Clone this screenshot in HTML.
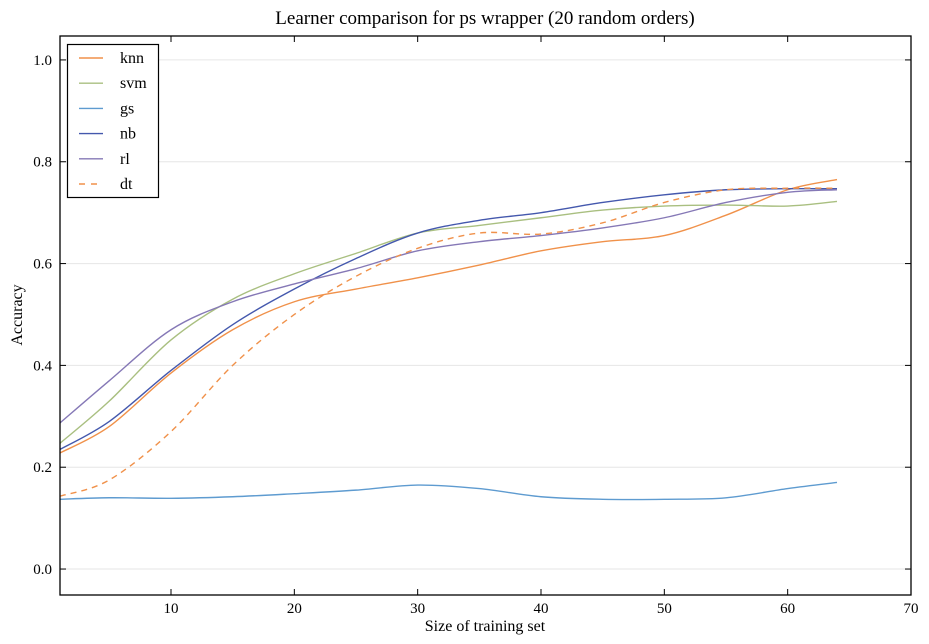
<!DOCTYPE html>
<html><head><meta charset="utf-8">
<style>
body{margin:0;background:#fff;}
svg{display:block;font-family:"Liberation Serif","DejaVu Serif",serif;}
</style></head>
<body>
<svg id="chart" width="929" height="644" viewBox="0 0 929 644"></svg>
<script>
const xs = [1,5,10,15,20,25,30,35,40,45,50,55,60,64];
const knn = [0.228,0.28,0.385,0.47,0.525,0.55,0.572,0.597,0.625,0.643,0.655,0.695,0.745,0.765];
const svm = [0.247,0.33,0.45,0.53,0.58,0.62,0.66,0.675,0.69,0.705,0.713,0.715,0.713,0.722];
const gs = [0.137,0.14,0.139,0.142,0.148,0.155,0.165,0.158,0.142,0.137,0.137,0.14,0.158,0.17];
const nb = [0.235,0.29,0.39,0.48,0.55,0.61,0.66,0.685,0.7,0.72,0.735,0.745,0.747,0.747];
const rl = [0.287,0.37,0.47,0.525,0.56,0.59,0.625,0.643,0.655,0.67,0.69,0.72,0.74,0.745];
const dt = [0.143,0.175,0.27,0.4,0.5,0.575,0.63,0.66,0.658,0.68,0.72,0.745,0.748,0.748];
const seriesNames = ["knn","svm","gs","nb","rl","dt"];
const xTicks = [10,20,30,40,50,60,70];
const yTicks = [0.0,0.2,0.4,0.6,0.8,1.0];

const L=60,R=911,T=36,B=595;
const xMin=1, xMax=70, yMin=-0.051, yMax=1.047;
const X=v=>L+(v-xMin)/(xMax-xMin)*(R-L);
const Y=v=>B-(v-yMin)/(yMax-yMin)*(B-T);
const svg=document.getElementById('chart');
const NS='http://www.w3.org/2000/svg';
function mk(tag,attrs,parent){const e=document.createElementNS(NS,tag);for(const k in attrs)e.setAttribute(k,attrs[k]);(parent||svg).appendChild(e);return e;}

// grid
yTicks.forEach(t=>{
  const g=mk('line',{x1:L,x2:R,y1:Y(t),y2:Y(t),stroke:'#e6e6e6','stroke-width':1});
  
  
});
// ticks
yTicks.forEach(t=>{
  const y=Y(t);
  mk('line',{x1:L,x2:L+6,y1:y,y2:y,stroke:'#000'});
  mk('line',{x1:R-6,x2:R,y1:y,y2:y,stroke:'#000'});
  const tx=mk('text',{x:L-8,y:y+5,'text-anchor':'end','font-size':15});
  tx.textContent=t.toFixed(1);
  
  
});
xTicks.forEach(t=>{
  const x=X(t);
  mk('line',{x1:x,x2:x,y1:B,y2:B-6,stroke:'#000'});
  mk('line',{x1:x,x2:x,y1:T,y2:T+6,stroke:'#000'});
  const tx=mk('text',{x:x,y:B+18,'text-anchor':'middle','font-size':15});
  tx.textContent=t;
  
  
});

const colors={knn:'#f0914a',svm:'#a9bf80',gs:'#5e9bd0',nb:'#4458ad',rl:'#8578b6',dt:'#f0914a'};
const data={knn,svm,gs,nb,rl,dt};
function path(vals){
  const p=xs.map((x,i)=>[X(x),Y(vals[i])]);
  let d='M'+p[0][0]+','+p[0][1];
  for(let i=0;i<p.length-1;i++){
    const p0=p[Math.max(i-1,0)],p1=p[i],p2=p[i+1],p3=p[Math.min(i+2,p.length-1)];
    const c1=[p1[0]+(p2[0]-p0[0])/6,p1[1]+(p2[1]-p0[1])/6];
    const c2=[p2[0]-(p3[0]-p1[0])/6,p2[1]-(p3[1]-p1[1])/6];
    d+=' C'+c1+' '+c2+' '+p2;
  }
  return d;
}
seriesNames.forEach(n=>{
  const a={d:path(data[n]),fill:'none',stroke:colors[n],'stroke-width':1.4};
  if(n==='dt')a['stroke-dasharray']='6,5';
  const e=mk('path',a);
  
  
});

// frame
const fr=mk('rect',{x:L,y:T,width:R-L,height:B-T,fill:'none',stroke:'#000','stroke-width':1.3});



// legend
const lg=mk('g',{});


mk('rect',{x:67.5,y:44.5,width:91,height:153,fill:'#fff',stroke:'#000','stroke-width':1.2},lg);
seriesNames.forEach((n,i)=>{
  const y=58+i*25.2;
  const en=mk('g',{},lg);
  
  
  const a={x1:79,x2:103,y1:y,y2:y,stroke:colors[n],'stroke-width':1.4};
  if(n==='dt')a['stroke-dasharray']='6,6';
  mk('line',a,en);
  const t=mk('text',{x:120,y:y+5,'font-size':16},en);
  t.textContent=n;
});

const title=mk('text',{x:485,y:24,'text-anchor':'middle','font-size':19});
title.textContent='Learner comparison for ps wrapper (20 random orders)';


const xl=mk('text',{x:485,y:631,'text-anchor':'middle','font-size':16});
xl.textContent='Size of training set';


const yl=mk('text',{x:0,y:0,'text-anchor':'middle','font-size':16,transform:'translate(22,315) rotate(-90)'});
yl.textContent='Accuracy';


</script>
</body></html>
